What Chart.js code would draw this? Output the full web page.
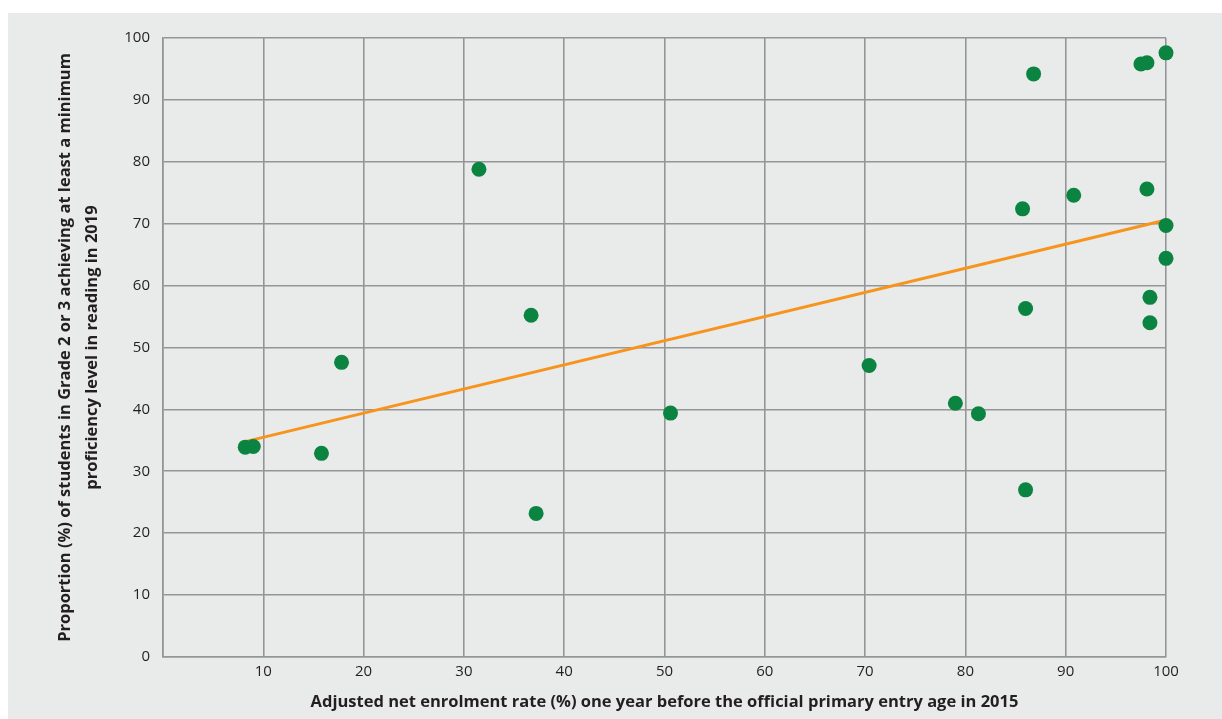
<!DOCTYPE html>
<html>
<head>
<meta charset="utf-8">
<script src="https://cdn.jsdelivr.net/npm/chart.js@4.4.1/dist/chart.umd.min.js"></script>
<style>
body { margin: 0; background: #ffffff; }
#box { position: absolute; left: 8px; top: 13px; width: 1214px; height: 706px; background: #e9eaea; }
</style>
</head>
<body>
<div id="box"><canvas id="mycanvas" width="1214" height="706"></canvas></div>
<script>
// enrolment rate (x) and reading proficiency (y) per country
var enrolment = [8.2, 9.0, 15.8, 17.8, 31.5, 36.7, 37.2, 50.6, 70.4, 79.0, 81.3, 85.7, 86.0, 86.0, 86.8, 90.8, 97.5, 98.1, 98.1, 98.4, 98.4, 100, 100, 100];
var reading   = [33.9, 34.0, 32.9, 47.6, 78.8, 55.2, 23.2, 39.4, 47.1, 41.0, 39.3, 72.4, 56.3, 27.0, 94.2, 74.6, 95.8, 96.0, 75.6, 58.1, 54.0, 97.6, 69.7, 64.4];
// fitted trend line end points
var trendX = [8.2, 100];
var trendY = [34.8, 70.6];
var xTicks = [0, 10, 20, 30, 40, 50, 60, 70, 80, 90, 100];

var points = [];
for (var i in enrolment) {
	points.push({x: enrolment[i], y: reading[i]});
}
var trend = [];
for (var j in trendX) {
	trend.push({x: trendX[j], y: trendY[j]});
}

Chart.defaults.font.family = "'Open Sans', sans-serif";
Chart.defaults.color = "#231f20";

var ctx = document.getElementById("mycanvas");

var chart = new Chart(ctx, {
	type: 'scatter',
	data: {
		datasets: [
			{
				type: 'line',
				data: trend,
				borderColor: "#f7941d",
				borderWidth: 3,
				pointRadius: 0,
				fill: false,
				clip: false,
				order: 2
			},
			{
				data: points,
				backgroundColor: "#0a8440",
				borderWidth: 0,
				pointRadius: 7.5,
				clip: false,
				order: 1
			}
		]
	},
	options: {
		responsive: false,
		animation: false,
		layout: { padding: { top: 25, right: 56, left: 0, bottom: 0 } },
		plugins: {
			legend: { display: false },
			tooltip: { enabled: false }
		},
		scales: {
			x: {
				type: 'linear',
				min: 0,
				max: 100,
				afterBuildTicks: function(scale) {
					scale.ticks = xTicks.map(function(v) { return {value: v}; });
				},
				afterFit: function(scale) { scale.height = 62; },
				grid: { color: "#949597", lineWidth: 1.6, drawTicks: false },
				border: { color: "#949597", width: 1.6 },
				ticks: {
					padding: 6,
					font: { size: 15 },
					callback: function(v) { return v === 0 ? '' : v; }
				},
				title: {
					display: true,
					text: 'Adjusted net enrolment rate (%) one year before the official primary entry age in 2015',
					font: { size: 16.5, weight: 'bold', lineHeight: 1.4 },
					padding: { top: 0, bottom: 5.5 }
				}
			},
			y: {
				min: 0,
				max: 100,
				afterFit: function(scale) { scale.width = 155; },
				grid: { color: "#949597", lineWidth: 1.6, drawTicks: false },
				border: { color: "#949597", width: 1.6 },
				ticks: {
					stepSize: 10,
					padding: 13,
					font: { size: 15 }
				},
				title: {
					display: true,
					text: ['Proportion (%) of students in Grade 2 or 3 achieving at least a minimum', 'proficiency level in reading in 2019'],
					font: { size: 16.5, weight: 'bold', lineHeight: 1.64 },
					padding: { top: 44, bottom: 0 }
				}
			}
		}
	}
});
</script>
</body>
</html>
